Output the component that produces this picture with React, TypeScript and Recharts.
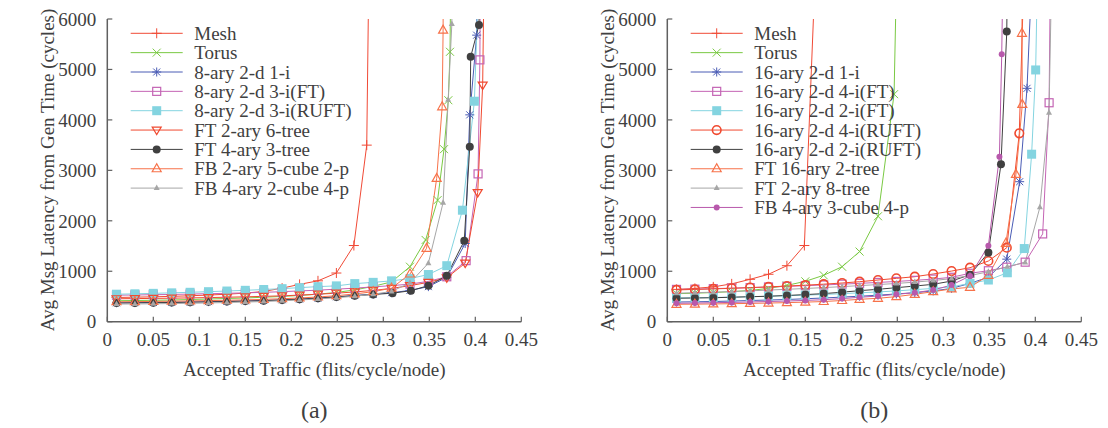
import React from 'react';
import { LineChart, Line, XAxis, YAxis } from 'recharts';

type Pt = [number, number];

const xTicks = [0, 0.05, 0.1, 0.15, 0.2, 0.25, 0.3, 0.35, 0.4, 0.45];
const xTickLabels = ['0', '0.05', '0.1', '0.15', '0.2', '0.25', '0.3', '0.35', '0.4', '0.45'];
const yTicks = [0, 1000, 2000, 3000, 4000, 5000, 6000];

const xLabel = 'Accepted Traffic (flits/cycle/node)';
const yLabel = 'Avg Msg Latency from Gen Time (cycles)';

// ---------- panel (a) ----------
const meshA: Pt[] = [[0.01,480],[0.03,486],[0.05,493],[0.07,502],[0.09,514],[0.11,528],[0.13,545],[0.15,567],[0.17,600],[0.19,665],[0.209,740],[0.229,810],[0.249,965],[0.268,1510],[0.282,3500],[0.287,11000]];
const torusA: Pt[] = [[0.01,415],[0.03,420],[0.05,425],[0.07,430],[0.09,440],[0.11,450],[0.13,460],[0.15,470],[0.17,485],[0.19,500],[0.209,520],[0.229,545],[0.249,580],[0.269,630],[0.289,700],[0.309,790],[0.329,1090],[0.346,1620],[0.359,2410],[0.366,3420],[0.3707,4390],[0.3725,5350],[0.374,8000]];
const k8oneA: Pt[] = [[0.01,375],[0.03,378],[0.05,382],[0.07,386],[0.09,392],[0.11,398],[0.13,405],[0.15,413],[0.17,422],[0.19,435],[0.209,450],[0.229,470],[0.249,495],[0.269,520],[0.289,545],[0.309,575],[0.329,620],[0.349,695],[0.369,880],[0.389,1550],[0.394,4100],[0.4015,5680],[0.403,9000]];
const k8ftA: Pt[] = [[0.01,525],[0.03,530],[0.05,535],[0.07,540],[0.09,548],[0.11,555],[0.13,563],[0.15,572],[0.17,582],[0.19,595],[0.209,610],[0.229,625],[0.249,645],[0.269,665],[0.289,690],[0.309,715],[0.329,745],[0.349,800],[0.369,890],[0.39,1210],[0.403,2930],[0.405,5190],[0.406,9000]];
const k8ruftA: Pt[] = [[0.01,545],[0.03,553],[0.05,562],[0.07,572],[0.09,583],[0.11,595],[0.13,608],[0.15,622],[0.17,638],[0.19,655],[0.209,675],[0.229,695],[0.249,710],[0.269,755],[0.289,780],[0.309,810],[0.329,855],[0.349,935],[0.369,1110],[0.386,2210],[0.399,4370],[0.404,7000]];
const ft6A: Pt[] = [[0.01,455],[0.03,458],[0.05,462],[0.07,466],[0.09,472],[0.11,478],[0.13,485],[0.15,493],[0.17,502],[0.19,513],[0.209,527],[0.229,545],[0.249,565],[0.269,590],[0.289,620],[0.309,660],[0.329,715],[0.349,780],[0.369,870],[0.389,1160],[0.4026,2560],[0.408,4690],[0.411,9000]];
const ft3A: Pt[] = [[0.01,370],[0.03,373],[0.05,377],[0.07,381],[0.09,387],[0.11,393],[0.13,400],[0.15,408],[0.17,417],[0.19,430],[0.209,445],[0.229,465],[0.249,490],[0.269,515],[0.289,540],[0.31,565],[0.33,615],[0.349,715],[0.369,910],[0.388,1605],[0.394,3470],[0.395,5250],[0.404,5880],[0.406,9000]];
const fb2A: Pt[] = [[0.01,395],[0.03,398],[0.05,402],[0.07,406],[0.09,412],[0.11,418],[0.13,425],[0.15,433],[0.17,443],[0.19,455],[0.209,470],[0.229,490],[0.249,515],[0.269,550],[0.289,595],[0.309,665],[0.329,945],[0.347,1455],[0.358,2840],[0.364,4260],[0.365,5780],[0.366,12000]];
const fb4A: Pt[] = [[0.01,350],[0.03,352],[0.05,355],[0.07,360],[0.09,365],[0.11,372],[0.13,380],[0.15,390],[0.17,400],[0.19,415],[0.209,430],[0.229,450],[0.249,475],[0.269,505],[0.289,545],[0.309,600],[0.329,770],[0.349,1160],[0.365,2360],[0.3705,4400],[0.3745,5900],[0.376,9000]];

const namesA = ['Mesh', 'Torus', '8-ary 2-d 1-i', '8-ary 2-d 3-i(FT)', '8-ary 2-d 3-i(RUFT)', 'FT 2-ary 6-tree', 'FT 4-ary 3-tree', 'FB 2-ary 5-cube 2-p', 'FB 4-ary 2-cube 4-p'];
const dataA = [meshA, torusA, k8oneA, k8ftA, k8ruftA, ft6A, ft3A, fb2A, fb4A];
const colorsA = ['#f04a36', '#7ac943', '#4a5cb5', '#c464b4', '#84d4e0', '#f04a30', '#404040', '#f7724a', '#a6a6a6'];
const shapesA = ['plus', 'cross', 'star', 'sqOpen', 'sqFill', 'triDown', 'circFill', 'triUp', 'triUpFill'];

// ---------- panel (b) ----------
const meshB: Pt[] = [[0.01,640],[0.03,660],[0.05,690],[0.07,750],[0.09,840],[0.11,940],[0.13,1110],[0.149,1510],[0.161,7000]];
const torusB: Pt[] = [[0.01,555],[0.03,565],[0.05,578],[0.07,595],[0.09,620],[0.11,660],[0.13,720],[0.15,800],[0.17,920],[0.19,1090],[0.209,1390],[0.229,2090],[0.2465,4510],[0.2515,9000]];
const k16oneB: Pt[] = [[0.01,390],[0.03,395],[0.05,400],[0.07,410],[0.09,420],[0.11,430],[0.13,440],[0.15,455],[0.17,470],[0.19,488],[0.209,505],[0.229,525],[0.249,550],[0.269,575],[0.289,610],[0.309,660],[0.329,760],[0.349,880],[0.369,1240],[0.383,2775],[0.391,4626],[0.399,8000]];
const k16ft4B: Pt[] = [[0.01,640],[0.03,645],[0.05,655],[0.07,665],[0.09,675],[0.11,688],[0.13,700],[0.15,714],[0.17,728],[0.19,744],[0.209,760],[0.229,778],[0.249,798],[0.269,820],[0.289,845],[0.309,880],[0.329,960],[0.349,1010],[0.369,1080],[0.389,1180],[0.408,1740],[0.415,4340],[0.4175,9000]];
const k16ft2B: Pt[] = [[0.01,470],[0.03,475],[0.05,480],[0.07,487],[0.09,495],[0.11,505],[0.13,515],[0.15,527],[0.17,540],[0.19,555],[0.209,572],[0.229,590],[0.249,610],[0.269,635],[0.289,660],[0.309,690],[0.329,760],[0.349,826],[0.3696,970],[0.388,1450],[0.396,3320],[0.4004,4990],[0.4045,9000]];
const k16ruft4B: Pt[] = [[0.01,630],[0.03,640],[0.05,650],[0.07,662],[0.09,676],[0.11,690],[0.13,706],[0.15,724],[0.17,744],[0.19,767],[0.209,793],[0.229,826],[0.249,859],[0.269,892],[0.289,945],[0.309,1004],[0.329,1070],[0.349,1203],[0.369,1467],[0.3826,3734],[0.391,9000]];
const k16ruft2B: Pt[] = [[0.01,465],[0.03,470],[0.05,475],[0.07,485],[0.09,495],[0.11,505],[0.13,520],[0.15,537],[0.17,557],[0.19,585],[0.209,615],[0.229,642],[0.249,674],[0.269,707],[0.289,741],[0.309,806],[0.329,930],[0.349,1370],[0.3627,3120],[0.369,5750],[0.3705,9000]];
const ft16B: Pt[] = [[0.01,345],[0.03,348],[0.05,352],[0.07,357],[0.09,363],[0.11,370],[0.13,378],[0.15,388],[0.17,400],[0.19,420],[0.209,444],[0.229,464],[0.249,497],[0.269,543],[0.289,595],[0.309,650],[0.329,682],[0.349,920],[0.368,1554],[0.379,2921],[0.3859,4308],[0.3855,5716],[0.3862,9000]];
const ft8B: Pt[] = [[0.01,565],[0.03,575],[0.05,585],[0.07,598],[0.09,612],[0.11,627],[0.13,642],[0.15,658],[0.17,676],[0.19,695],[0.209,715],[0.229,736],[0.249,758],[0.269,785],[0.289,815],[0.309,855],[0.329,915],[0.349,990],[0.3696,1090],[0.389,1175],[0.405,2270],[0.4149,4140],[0.42,9000]];
const fb4B: Pt[] = [[0.01,365],[0.03,370],[0.05,376],[0.07,383],[0.09,391],[0.11,400],[0.13,410],[0.15,422],[0.17,436],[0.19,458],[0.209,484],[0.229,509],[0.249,543],[0.269,575],[0.289,628],[0.309,727],[0.329,906],[0.349,1506],[0.361,3270],[0.3635,5300],[0.3665,9000]];

const namesB = ['Mesh', 'Torus', '16-ary 2-d 1-i', '16-ary 2-d 4-i(FT)', '16-ary 2-d 2-i(FT)', '16-ary 2-d 4-i(RUFT)', '16-ary 2-d 2-i(RUFT)', 'FT 16-ary 2-tree', 'FT 2-ary 8-tree', 'FB 4-ary 3-cube 4-p'];
const dataB = [meshB, torusB, k16oneB, k16ft4B, k16ft2B, k16ruft4B, k16ruft2B, ft16B, ft8B, fb4B];
const colorsB = ['#f04a36', '#7ac943', '#4a5cb5', '#c464b4', '#84d4e0', '#f04a30', '#404040', '#f7724a', '#a6a6a6', '#b859ac'];
const shapesB = ['plus', 'cross', 'star', 'sqOpen', 'sqFill', 'circOpen', 'circFill', 'triUp', 'triUpFill', 'dotFill'];

// ---------- layout constants ----------
const FONT = '"Liberation Serif", "DejaVu Serif", serif';
const TXT = '#404040';
const AX = '#606060';
const CW = 548;
const CH = 428;
const PANEL_B_LEFT = 560;

function Marker({ shape, color, cx, cy }: { shape: string; color: string; cx: number; cy: number }) {
  if (cx == null || cy == null || isNaN(cx) || isNaN(cy)) return <g />;
  switch (shape) {
    case 'plus':
      return (
        <g stroke={color} strokeWidth={1}>
          <line x1={cx - 5} y1={cy} x2={cx + 5} y2={cy} />
          <line x1={cx} y1={cy - 5} x2={cx} y2={cy + 5} />
        </g>
      );
    case 'cross':
      return (
        <g stroke={color} strokeWidth={1}>
          <line x1={cx - 4} y1={cy - 4} x2={cx + 4} y2={cy + 4} />
          <line x1={cx - 4} y1={cy + 4} x2={cx + 4} y2={cy - 4} />
        </g>
      );
    case 'star':
      return (
        <g stroke={color} strokeWidth={1}>
          <line x1={cx - 4.5} y1={cy} x2={cx + 4.5} y2={cy} />
          <line x1={cx} y1={cy - 4.5} x2={cx} y2={cy + 4.5} />
          <line x1={cx - 3.5} y1={cy - 3.5} x2={cx + 3.5} y2={cy + 3.5} />
          <line x1={cx - 3.5} y1={cy + 3.5} x2={cx + 3.5} y2={cy - 3.5} />
        </g>
      );
    case 'sqOpen':
      return <rect x={cx - 4} y={cy - 4} width={8} height={8} fill="none" stroke={color} strokeWidth={1.2} />;
    case 'sqFill':
      return <rect x={cx - 4.5} y={cy - 4.5} width={9} height={9} fill={color} stroke="none" />;
    case 'triDown':
      return <polygon points={`${cx - 4.5},${cy - 3} ${cx + 4.5},${cy - 3} ${cx},${cy + 4.5}`} fill="none" stroke={color} strokeWidth={1.2} />;
    case 'triUp':
      return <polygon points={`${cx},${cy - 5} ${cx - 4.5},${cy + 3} ${cx + 4.5},${cy + 3}`} fill="none" stroke={color} strokeWidth={1.2} />;
    case 'triUpFill':
      return <polygon points={`${cx},${cy - 3.5} ${cx - 3},${cy + 2} ${cx + 3},${cy + 2}`} fill={color} stroke="none" />;
    case 'circFill':
      return <circle cx={cx} cy={cy} r={4} fill={color} stroke="none" />;
    case 'circOpen':
      return <circle cx={cx} cy={cy} r={4.3} fill="none" stroke={color} strokeWidth={1.6} />;
    case 'dotFill':
      return <circle cx={cx} cy={cy} r={3} fill={color} stroke="none" />;
    default:
      return <g />;
  }
}

const fmtX = (v: number) => {
  const i = xTicks.indexOf(v);
  return i >= 0 ? xTickLabels[i] : String(v);
};

const tickStyle = { fontFamily: FONT, fontSize: 19, fill: TXT };

function Panel({ left, names, data, colors, shapes }: { left: number; names: string[]; data: Pt[][]; colors: string[]; shapes: string[] }) {
  return (
    <div style={{ position: 'absolute', left, top: 0, width: CW, height: CH }}>
      <LineChart width={CW} height={CH} margin={{ top: 19, right: 26.7, bottom: 76.3, left: 47.3 }}>
        <XAxis
          xAxisId="b"
          dataKey="x"
          type="number"
          domain={[0, 0.45]}
          ticks={xTicks}
          interval={0}
          allowDataOverflow
          tickFormatter={fmtX}
          height={30}
          tickSize={-5}
          tickMargin={16}
          tick={tickStyle}
          axisLine={{ stroke: AX, strokeWidth: 1.5 }}
          tickLine={{ stroke: AX, strokeWidth: 1.2 }}
        />
        <XAxis
          xAxisId="t"
          orientation="top"
          type="number"
          domain={[0, 0.45]}
          ticks={xTicks}
          interval={0}
          allowDataOverflow
          tickFormatter={() => ''}
          height={0}
          tickSize={-5}
          tickMargin={0}
          axisLine={{ stroke: AX, strokeWidth: 1.5 }}
          tickLine={{ stroke: AX, strokeWidth: 1.2 }}
        />
        <YAxis
          yAxisId="l"
          type="number"
          domain={[0, 6000]}
          ticks={yTicks}
          interval={0}
          allowDataOverflow
          width={60}
          tickSize={-5}
          tickMargin={16}
          tick={tickStyle}
          axisLine={{ stroke: AX, strokeWidth: 1.5 }}
          tickLine={{ stroke: AX, strokeWidth: 1.2 }}
        />
        <YAxis
          yAxisId="r"
          orientation="right"
          type="number"
          domain={[0, 6000]}
          ticks={yTicks}
          interval={0}
          allowDataOverflow
          width={0}
          tickSize={-5}
          tickMargin={0}
          tickFormatter={() => ''}
          axisLine={{ stroke: AX, strokeWidth: 1.5 }}
          tickLine={{ stroke: AX, strokeWidth: 1.2 }}
        />
        {data.map((pts, i) => (
          <Line
            key={names[i]}
            name={names[i]}
            xAxisId="b"
            yAxisId="l"
            data={pts.map(([x, y]) => ({ x, y }))}
            dataKey="y"
            type="linear"
            stroke={colors[i]}
            strokeWidth={1}
            isAnimationActive={false}
            dot={(p: any) => (
              <Marker key={`${names[i]}-${p.index}`} shape={shapes[i]} color={colors[i]} cx={p.cx} cy={p.cy} />
            )}
            activeDot={false}
          />
        ))}
      </LineChart>
    </div>
  );
}

function Overlay() {
  const panels = [
    { x0: 0, names: namesA, colors: colorsA, shapes: shapesA, letter: '(a)' },
    { x0: PANEL_B_LEFT, names: namesB, colors: colorsB, shapes: shapesB, letter: '(b)' },
  ];
  return (
    <svg width={1108} height={428} style={{ position: 'absolute', left: 0, top: 0, pointerEvents: 'none' }}>
      {panels.map((p) => (
        <g key={p.letter} fontFamily={FONT} fill={TXT}>
          {p.names.map((n, i) => {
            const y = 33.3 + i * 19.35;
            return (
              <g key={n}>
                <line x1={p.x0 + 130.7} y1={y} x2={p.x0 + 182.7} y2={y} stroke={p.colors[i]} strokeWidth={1} />
                <Marker shape={p.shapes[i]} color={p.colors[i]} cx={p.x0 + 156.7} cy={y} />
                <text x={p.x0 + 194.3} y={y} dy="0.35em" fontSize={19}>{n}</text>
              </g>
            );
          })}
          <text
            x={0}
            y={0}
            fontSize={19}
            textAnchor="middle"
            transform={`translate(${p.x0 + 54},170) rotate(-90)`}
          >
            {yLabel}
          </text>
          <text x={p.x0 + 314.3} y={376} fontSize={19} textAnchor="middle">{xLabel}</text>
          <text x={p.x0 + 314.3} y={418} fontSize={24} textAnchor="middle">{p.letter}</text>
        </g>
      ))}
    </svg>
  );
}

export default function App() {
  return (
    <div style={{ position: 'absolute', left: 0, top: 0, width: 1108, height: 428, background: '#fff' }}>
      <Panel left={0} names={namesA} data={dataA} colors={colorsA} shapes={shapesA} />
      <Panel left={PANEL_B_LEFT} names={namesB} data={dataB} colors={colorsB} shapes={shapesB} />
      <Overlay />
    </div>
  );
}
